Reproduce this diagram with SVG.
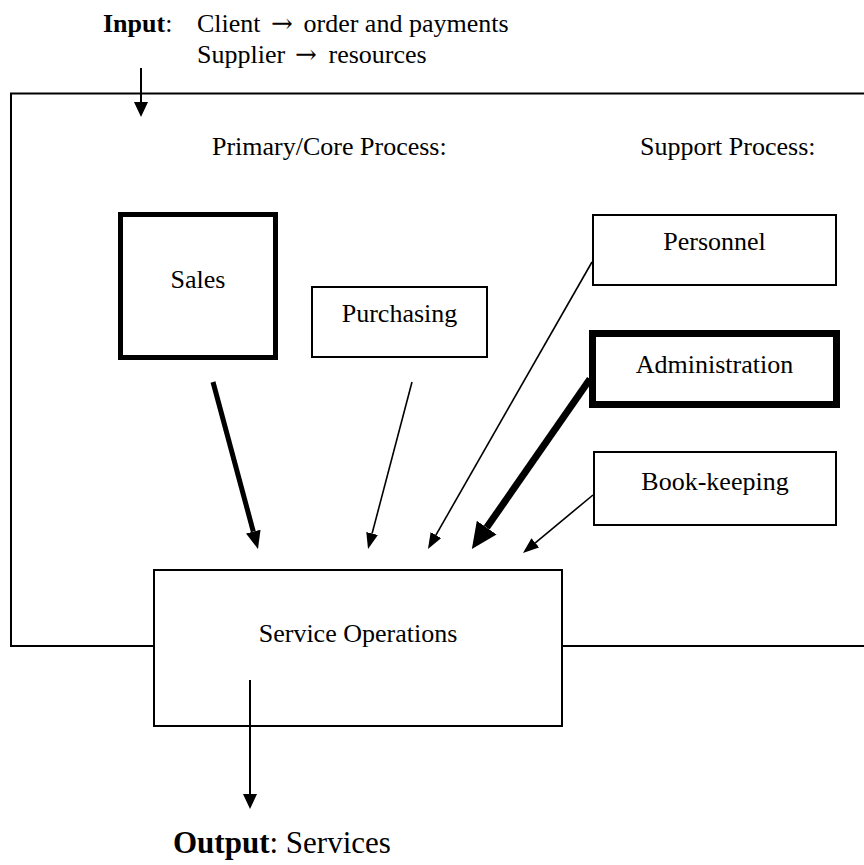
<svg xmlns="http://www.w3.org/2000/svg" width="864" height="865" viewBox="0 0 864 865">
<defs>
<style>
text{font-family:"Liberation Serif","Times New Roman",serif;font-size:26px;fill:#000}
.b{font-weight:bold}
.ar{font-family:"DejaVu Serif","DejaVu Sans",serif;font-size:26px}
.box{fill:#fff;stroke:#000;stroke-width:2}
.thick{fill:#fff;stroke:#000;stroke-width:5}
.thicker{fill:#fff;stroke:#000;stroke-width:7}
.ln{stroke:#000;fill:none}
</style>
<marker id="h14" viewBox="0 0 10 10" refX="0" refY="5" markerWidth="15" markerHeight="14" markerUnits="userSpaceOnUse" orient="auto" preserveAspectRatio="none"><path d="M0,0 L10,5 L0,10 z" fill="#000"/></marker>
<marker id="hthin" viewBox="0 0 10 10" refX="0" refY="5" markerWidth="16" markerHeight="12" markerUnits="userSpaceOnUse" orient="auto" preserveAspectRatio="none"><path d="M0,0 L10,5 L0,10 z" fill="#000"/></marker>
<marker id="hmid" viewBox="0 0 10 10" refX="0" refY="5" markerWidth="18" markerHeight="15" markerUnits="userSpaceOnUse" orient="auto" preserveAspectRatio="none"><path d="M0,0 L10,5 L0,10 z" fill="#000"/></marker>
<marker id="hbig" viewBox="0 0 10 10" refX="0" refY="5" markerWidth="26" markerHeight="24" markerUnits="userSpaceOnUse" orient="auto" preserveAspectRatio="none"><path d="M0,0 L10,5 L0,10 z" fill="#000"/></marker>
</defs>
<rect width="864" height="865" fill="#fff"/>

<g id="input-label">
<text x="103" y="32"><tspan class="b">Input</tspan>:</text>
<text y="32"><tspan x="197">Client </tspan><tspan class="ar" x="271">→</tspan><tspan x="297"> order and payments</tspan></text>
<text y="63"><tspan x="197">Supplier </tspan><tspan class="ar" x="295">→</tspan><tspan x="322"> resources</tspan></text>
</g>

<g id="system-boundary">
<path class="ln" stroke-width="2" d="M864,93.5 H11 V646 H864"/>
<text x="212" y="155">Primary/Core Process:</text>
<text x="640" y="155">Support Process:</text>
</g>

<g id="sales">
<rect class="thick" x="120.5" y="214.5" width="155" height="143"/>
<text x="198" y="288" text-anchor="middle">Sales</text>
</g>
<g id="purchasing">
<rect class="box" x="312" y="287" width="175" height="70"/>
<text x="399.5" y="322" text-anchor="middle">Purchasing</text>
</g>
<g id="personnel">
<rect class="box" x="593" y="215" width="243" height="70"/>
<text x="714.5" y="250" text-anchor="middle">Personnel</text>
</g>
<g id="administration">
<rect class="thicker" x="592.5" y="333.5" width="244" height="71"/>
<text x="714.5" y="373" text-anchor="middle">Administration</text>
</g>
<g id="book-keeping">
<rect class="box" x="594" y="452" width="242" height="73"/>
<text x="715" y="490" text-anchor="middle">Book-keeping</text>
</g>
<g id="service-operations">
<rect class="box" x="154" y="570" width="408" height="156"/>
<text x="358" y="642" text-anchor="middle">Service Operations</text>
</g>

<g id="connectors">
<line class="ln" stroke-width="2" x1="141" y1="68" x2="141" y2="102" marker-end="url(#h14)"/>
<line class="ln" stroke-width="5" x1="213" y1="382" x2="253.3" y2="531.6" marker-end="url(#hmid)"/>
<line class="ln" stroke-width="1.6" x1="412" y1="382" x2="372.1" y2="533.5" marker-end="url(#hthin)"/>
<line class="ln" stroke-width="1.6" x1="592" y1="262" x2="435.9" y2="535.1" marker-end="url(#hthin)"/>
<line class="ln" stroke-width="7" x1="590" y1="379" x2="486.7" y2="527.6" marker-end="url(#hbig)"/>
<line class="ln" stroke-width="1.6" x1="593" y1="495" x2="535.3" y2="542.8" marker-end="url(#hthin)"/>
<line class="ln" stroke-width="2" x1="250" y1="680" x2="250" y2="794" marker-end="url(#h14)"/>
</g>

<g id="output">
<text x="173" y="853" style="font-size:31px"><tspan class="b">Output</tspan>: Services</text>
</g>
</svg>
